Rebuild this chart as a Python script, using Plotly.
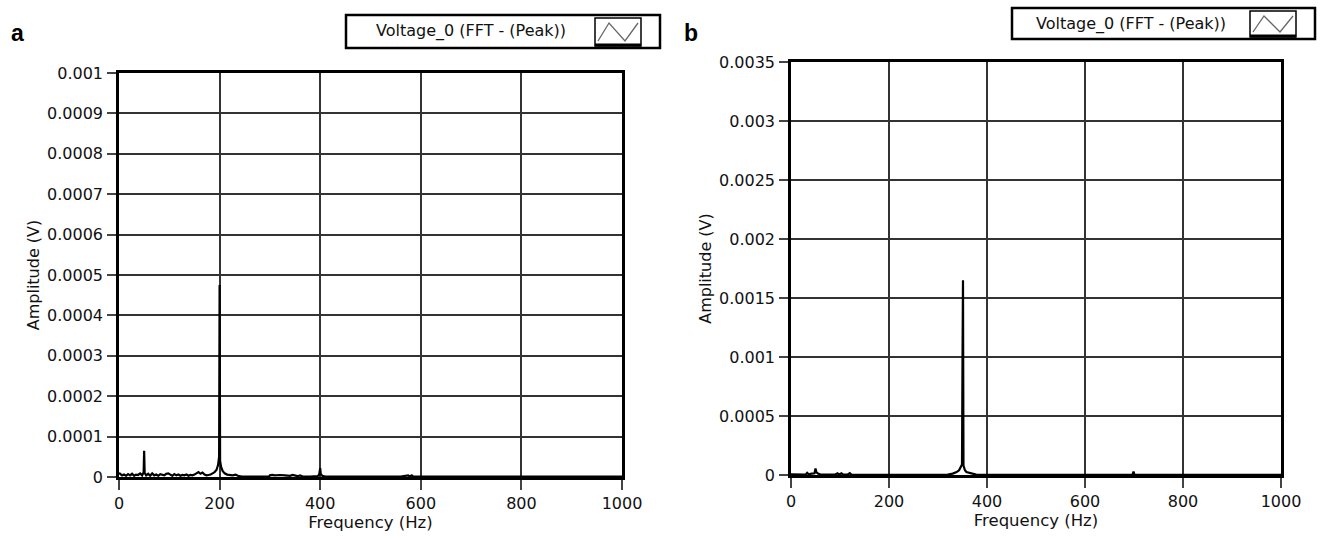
import plotly.graph_objects as go

# ---------------- data ----------------
freq_a = [0, 3, 6, 10, 14, 18, 22, 26, 30, 34, 38, 42, 46, 49, 50, 51, 54, 58, 62, 66,
          70, 74, 78, 82, 86, 90, 94, 98, 102, 106, 110, 114, 118, 122, 126, 130, 134,
          138, 142, 146, 150, 154, 158, 162, 166, 170, 174, 178, 182, 186, 190, 194,
          197, 199, 200, 201, 203, 206, 210, 215, 220, 226, 232, 238, 245, 260, 280,
          298, 300, 305, 310, 320, 330, 340, 345, 355, 360, 365, 380, 395, 398, 400,
          401, 404, 410, 450, 500, 560, 575, 578, 582, 585, 650, 700, 800, 900, 1000]
amp_a = [0.00001, 0.000008, 0.000004, 0.000006, 0.000003, 0.000007, 0.000004, 0.000008,
         0.000003, 0.000006, 0.000005, 0.000009, 0.000004, 0.000012, 0.000065, 0.00001,
         0.000004, 0.000008, 0.000003, 0.000009, 0.000004, 0.000006, 0.000003, 0.000007,
         0.000005, 0.000004, 0.000008, 0.000009, 0.000006, 0.000003, 0.000007, 0.000004,
         0.000006, 0.000003, 0.000005, 0.000004, 0.000006, 0.000003, 0.000005, 0.000004,
         0.000006, 0.00001, 0.000012, 0.000008, 0.000011, 0.000006, 0.000004, 0.000005,
         0.000006, 0.000009, 0.000012, 0.000018, 0.00003, 0.00005, 0.000475, 0.00004,
         0.000025, 0.000015, 0.000009, 0.000006, 0.000005, 0.000004, 0.000006, 0.000002,
         0.000001, 0.000001, 0.000001, 0.000001, 0.000004, 0.000005, 0.000004, 0.000005,
         0.000004, 0.000003, 0.000005, 0.000002, 0.000004, 0.000001, 0.000001, 0.000002,
         0.000006, 0.000022, 0.000008, 0.000003, 0.000001, 0.000001, 0.000001, 0.000001,
         0.000004, 0.000001, 0.000004, 0.000001, 0.000001, 0.000001, 0.000001, 0.000001,
         0.000001]

freq_b = [0, 10, 20, 30, 33, 36, 42, 48, 50, 52, 55, 60, 70, 80, 90, 95, 98, 103, 106,
          115, 120, 123, 140, 200, 260, 300, 320, 330, 338, 343, 346, 349, 350, 351, 352,
          355, 358, 365, 372, 378, 390, 450, 500, 600, 697, 699, 701, 800, 1000]
amp_b = [0.000005, 0.000003, 0.000003, 0.000004, 0.000018, 0.000006, 0.000012, 0.000015,
         0.000055, 0.000022, 0.000012, 0.000004, 0.000003, 0.000004, 0.000004, 0.000014,
         0.000004, 0.000014, 0.000004, 0.000003, 0.000015, 0.000003, 0.000002, 0.000002,
         0.000002, 0.000002, 0.000004, 0.000012, 0.000025, 0.00004, 0.00007, 0.00009,
         0.00096, 0.00165, 0.00008, 0.00004, 0.000025, 0.000015, 0.00001, 0.000004,
         0.000002, 0.000002, 0.000002, 0.000002, 0.000002, 0.00003, 0.000002, 0.000002,
         0.000002]

x_ticks = [0, 200, 400, 600, 800, 1000]
y_ticks_a = [0, 0.0001, 0.0002, 0.0003, 0.0004, 0.0005, 0.0006, 0.0007, 0.0008, 0.0009, 0.001]
y_text_a = ["0", "0.0001", "0.0002", "0.0003", "0.0004", "0.0005", "0.0006", "0.0007",
            "0.0008", "0.0009", "0.001"]
y_ticks_b = [0, 0.0005, 0.001, 0.0015, 0.002, 0.0025, 0.003, 0.0035]
y_text_b = ["0", "0.0005", "0.001", "0.0015", "0.002", "0.0025", "0.003", "0.0035"]
legend_label = "Voltage_0 (FFT - (Peak))"
panel_labels = ["a", "b"]
x_title = "Frequency (Hz)"
y_title = "Amplitude (V)"

# ---------------- layout helpers ----------------
W, H = 1322, 539
def px(x):
    return x / W
def py(y):
    return 1 - y / H

FONT = "DejaVu Sans"
TXT = "#111"

fig = go.Figure()
fig.add_trace(go.Scatter(x=freq_a, y=amp_a, mode="lines", xaxis="x", yaxis="y",
                         line=dict(color="black", width=2.2), showlegend=False))
fig.add_trace(go.Scatter(x=freq_b, y=amp_b, mode="lines", xaxis="x2", yaxis="y2",
                         line=dict(color="black", width=2.2), showlegend=False))

common_x = dict(range=[0, 1000], tickvals=x_ticks, ticks="outside", ticklen=10,
                tickwidth=1.5, tickcolor="#444", showgrid=True, gridcolor="#333",
                gridwidth=1.5, showline=True, linecolor="black", linewidth=2.5,
                mirror=True, zeroline=False, ticklabelstandoff=0, automargin=False,
                title=dict(text=x_title, standoff=2,
                           font=dict(family=FONT, size=16.5, color=TXT)),
                tickfont=dict(family=FONT, size=16, color=TXT))
common_y = dict(ticks="outside", ticklen=9, tickwidth=1.5, tickcolor="#444",
                showgrid=True, gridcolor="#333", gridwidth=1.5, showline=True,
                linecolor="black", linewidth=2.5, mirror=True, zeroline=False,
                ticklabelstandoff=1, automargin=False,
                title=dict(text=y_title, standoff=4,
                           font=dict(family=FONT, size=16, color=TXT)),
                tickfont=dict(family=FONT, size=16, color=TXT))

fig.update_layout(
    width=W, height=H, margin=dict(l=0, r=0, t=0, b=0, autoexpand=False),
    paper_bgcolor="white", plot_bgcolor="white",
    xaxis=dict(domain=[px(119), px(622)], anchor="y", **common_x),
    yaxis=dict(domain=[py(477), py(73)], anchor="x", range=[0, 0.001],
               tickvals=y_ticks_a, ticktext=y_text_a, **common_y),
    xaxis2=dict(domain=[px(791), px(1281)], anchor="y2", **common_x),
    yaxis2=dict(domain=[py(475), py(62)], anchor="x2", range=[0, 0.0035],
                tickvals=y_ticks_b, ticktext=y_text_b, **common_y),
)

shapes = []
annotations = []

def add_legend(x0, y0, x1, y1):
    shapes.append(dict(type="rect", xref="paper", yref="paper", x0=px(x0), x1=px(x1),
                       y0=py(y1), y1=py(y0), line=dict(color="black", width=2.5),
                       fillcolor="white"))
    ix1 = x1 - 19
    ix0 = ix1 - 46
    shapes.append(dict(type="rect", xref="paper", yref="paper", x0=px(ix0), x1=px(ix1),
                       y0=py(y1 - 2), y1=py(y0 + 3), line=dict(color="black", width=1.5),
                       fillcolor="white"))
    shapes.append(dict(type="line", xref="paper", yref="paper", x0=px(ix0), x1=px(ix1),
                       y0=py(y1 - 3), y1=py(y1 - 3), line=dict(color="black", width=3)))
    gy0, gy1 = y0 + 8, y1 - 7
    pts = [(ix0 + 3, gy1), (ix0 + 14, gy0), (ix0 + 30, gy1), (ix1 - 3, gy0)]
    path = "M " + " L ".join(f"{px(a)},{py(b)}" for a, b in pts)
    shapes.append(dict(type="path", xref="paper", yref="paper", path=path,
                       line=dict(color="#666", width=1.3)))
    annotations.append(dict(xref="paper", yref="paper", x=px((x0 + ix0) / 2),
                            y=py((y0 + y1) / 2), text=legend_label, showarrow=False,
                            xanchor="center", yanchor="middle",
                            font=dict(family=FONT, size=16, color=TXT)))

add_legend(346, 15, 660, 48)
add_legend(1012, 8, 1315, 39)

annotations.append(dict(xref="paper", yref="paper", x=px(9), y=py(33), text=f"<b>{panel_labels[0]}</b>",
                        showarrow=False, xanchor="left", yanchor="middle",
                        font=dict(family="Liberation Sans", size=23, color="black")))
annotations.append(dict(xref="paper", yref="paper", x=px(682), y=py(33), text=f"<b>{panel_labels[1]}</b>",
                        showarrow=False, xanchor="left", yanchor="middle",
                        font=dict(family="Liberation Sans", size=23, color="black")))

fig.update_layout(shapes=shapes, annotations=annotations)
fig.write_html("out.html")
